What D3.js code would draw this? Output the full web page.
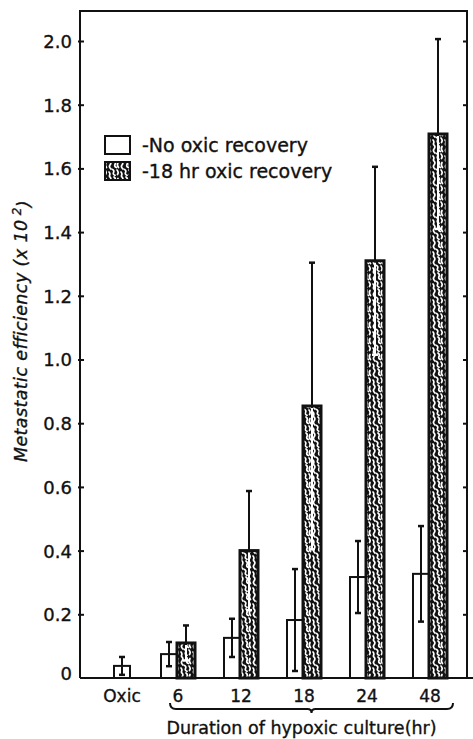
<!DOCTYPE html>
<html>
<head>
<meta charset="utf-8">
<script src="https://cdn.jsdelivr.net/npm/d3@7"></script>
<style>
  html, body { margin: 0; padding: 0; background: #fff; }
  svg { display: block; }
  text { font-family: "DejaVu Sans", sans-serif; fill: #111; stroke: #111; stroke-width: 0.35px; }
</style>
</head>
<body>
<svg id="chart" width="473" height="739"></svg>
<script>
// ---------- data ----------
const categories = ["Oxic", "6", "12", "18", "24", "48"];
const noRecovery    = [0.038, 0.075, 0.126, 0.182, 0.317, 0.327];
const noRecoveryErr = [0.028, 0.038, 0.060, 0.160, 0.113, 0.150];
const recovery      = [null, 0.110, 0.400, 0.854, 1.310, 1.708];
const recoveryErr   = [null, 0.055, 0.187, 0.450, 0.295, 0.298];
const yTicks = [0, 0.2, 0.4, 0.6, 0.8, 1.0, 1.2, 1.4, 1.6, 1.8, 2.0];
const legendLabels = ["-No oxic recovery", "-18 hr oxic recovery"];
const yTitle = "Metastatic efficiency (x 10";
const xTitle = "Duration of hypoxic culture(hr)";

// ---------- layout ----------
const svg = d3.select("#chart");
const frame = { left: 80, right: 467, top: 11, bottom: 678 };
const whiteW = 16, hatchW = 18, capW = 6;

const y = d3.scaleLinear().domain([0, 2.0]).range([678, 41]);
const x = d3.scalePoint().domain(categories).range([114, 429]);

// ---------- pattern ----------
const defs = svg.append("defs");
const pat = defs.append("pattern")
  .attr("id", "worms").attr("patternUnits", "userSpaceOnUse")
  .attr("width", 12).attr("height", 16);
pat.append("rect").attr("width", 12).attr("height", 16).attr("fill", "#111");
const wormPaths = [
  "M1.5,0.5 q2.5,2 0.5,4.5 q-1.5,2 1,4",
  "M6,1 q2,1.5 1,3.5 q-1,2 1.5,3",
  "M10,2.5 q-1.5,2.5 0.5,5",
  "M4.5,9.5 q2,1 1,3 q-0.8,1.8 1.5,2.8",
  "M9,10 q2,2 0.5,4.5",
  "M1,12 q1.5,1.5 0.5,3.5"
];
pat.selectAll("path").data(wormPaths).join("path")
  .attr("d", d => d).attr("fill", "none").attr("stroke", "#fff")
  .attr("stroke-width", 1.7).attr("stroke-linecap", "round");

// ---------- frame ----------
const g = svg.append("g");
g.append("path")
  .attr("d", `M${frame.left},${frame.bottom} V${frame.top} H${frame.right} V${frame.bottom} M${frame.left},${frame.bottom} H${frame.right + 6}`)
  .attr("fill", "none").attr("stroke", "#111").attr("stroke-width", 2);

// left axis
const yAxis = d3.axisLeft(y).tickValues(yTicks).tickSize(-4).tickPadding(8)
  .tickFormat(d => d === 0 ? "0" : d3.format(".1f")(d));
const ya = g.append("g").attr("transform", `translate(${frame.left},0)`).call(yAxis);
ya.select(".domain").remove();
ya.selectAll(".tick line").attr("stroke", "#111").attr("stroke-width", 2).attr("x1", -2);
ya.selectAll(".tick text").attr("font-size", 18).attr("fill", "#111")
  .attr("font-family", "DejaVu Sans, sans-serif").attr("dy", "0.36em");
ya.selectAll(".tick").filter(d => d === 0).remove();

// right ticks (inward)
const yr = g.append("g").attr("transform", `translate(${frame.right},0)`)
  .call(d3.axisRight(y).tickValues(yTicks.filter(d => d > 0)).tickSize(-4).tickFormat(""));
yr.select(".domain").remove();
yr.selectAll(".tick line").attr("stroke", "#111").attr("stroke-width", 2);

// zero label
g.append("text").attr("x", frame.left - 8).attr("y", y(0)).attr("dy", "0.1em")
  .attr("text-anchor", "end").attr("font-size", 18).text("0");

// ---------- bars ----------
const rows = categories.map((c, i) => ({
  c, i, nr: noRecovery[i], nre: noRecoveryErr[i], r: recovery[i], re: recoveryErr[i]
}));

function errorBar(sel, cx, v, e, colTop, colIn, barTop) {
  const yt = y(v + e), yb = y(Math.max(v - e, 0));
  sel.append("line").attr("x1", cx).attr("x2", cx).attr("y1", yt).attr("y2", barTop)
    .attr("stroke", colTop).attr("stroke-width", 2);
  sel.append("line").attr("x1", cx - capW / 2).attr("x2", cx + capW / 2).attr("y1", yt).attr("y2", yt)
    .attr("stroke", colTop).attr("stroke-width", 2.5);
  sel.append("line").attr("x1", cx).attr("x2", cx).attr("y1", barTop).attr("y2", yb)
    .attr("stroke", colIn).attr("stroke-width", 2);
  sel.append("line").attr("x1", cx - capW / 2).attr("x2", cx + capW / 2).attr("y1", yb).attr("y2", yb)
    .attr("stroke", colIn).attr("stroke-width", 2.5);
}

const bars = g.append("g");
rows.forEach(d => {
  const cx = x(d.c);
  const grp = bars.append("g");
  const wx = d.r == null ? cx : cx - whiteW;
  grp.append("rect").attr("x", wx).attr("width", whiteW)
    .attr("y", y(d.nr)).attr("height", y(0) - y(d.nr))
    .attr("fill", "#fff").attr("stroke", "#111").attr("stroke-width", 2);
  errorBar(grp, wx + whiteW / 2, d.nr, d.nre, "#111", "#111", y(d.nr));
  if (d.r != null) {
    grp.append("rect").attr("x", cx).attr("width", hatchW)
      .attr("y", y(d.r)).attr("height", y(0) - y(d.r))
      .attr("fill", "url(#worms)").attr("stroke", "#111").attr("stroke-width", 3);
    errorBar(grp, cx + hatchW / 2, d.r, d.re, "#111", "#fff", y(d.r) + 2);
  }
});

// ---------- x labels ----------
rows.forEach(d => {
  const lx = d.r == null ? x(d.c) + whiteW / 2 : x(d.c) + 1;
  g.append("text").attr("x", lx).attr("y", 702).attr("text-anchor", "middle")
    .attr("font-size", 17).text(d.c);
});

// brace under hypoxic durations
const bx0 = x(categories[1]) - 7, bx1 = x(categories[categories.length - 1]) + 24;
const bm = (bx0 + bx1) / 2, by = 709;
g.append("path")
  .attr("d", `M${bx0},${by - 6} Q${bx0},${by} ${bx0 + 6},${by} H${bm - 4} Q${bm},${by} ${bm},${by + 4} Q${bm},${by} ${bm + 4},${by} H${bx1 - 6} Q${bx1},${by} ${bx1},${by - 6}`)
  .attr("fill", "none").attr("stroke", "#111").attr("stroke-width", 2);

g.append("text").attr("x", bm - 10).attr("y", 734).attr("text-anchor", "middle")
  .attr("font-size", 17.5).text(xTitle);

// y title
const yt = g.append("text").attr("transform", `translate(27,331) rotate(-90)`)
  .attr("text-anchor", "middle").attr("font-size", 17.5).attr("font-style", "italic")
  .attr("letter-spacing", 0.4);
yt.append("tspan").text(yTitle);
yt.append("tspan").attr("dy", "-0.5em").attr("font-size", 12).text(" 2");
yt.append("tspan").attr("dy", "0.5em").text(")");

// ---------- legend ----------
const lg = g.append("g");
const legendFills = ["#fff", "url(#worms)"];
const legendY = [136, 162];
legendLabels.forEach((t, i) => {
  lg.append("rect").attr("x", 105).attr("y", legendY[i]).attr("width", 25).attr("height", 18)
    .attr("fill", legendFills[i]).attr("stroke", "#111").attr("stroke-width", 2);
  lg.append("text").attr("x", 142).attr("y", legendY[i] + 16).attr("font-size", 19).text(t);
});
</script>
</body>
</html>
